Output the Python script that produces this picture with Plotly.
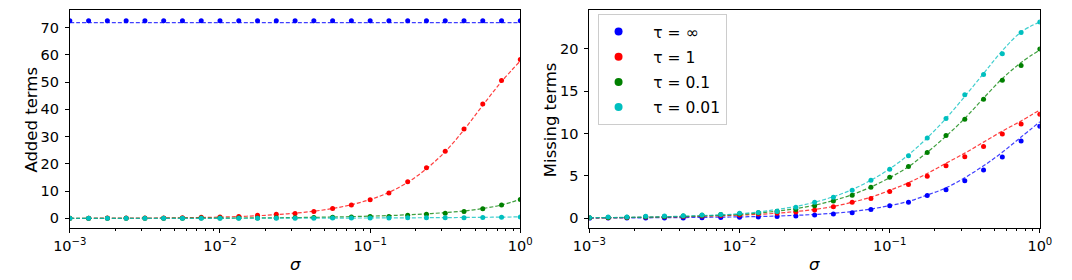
import numpy as np
import plotly.graph_objects as go

sigma = np.logspace(-3, 0, 25)

labels = ["τ = ∞", "τ = 1", "τ = 0.1", "τ = 0.01"]
colors = ["#0000ff", "#ff0000", "#008000", "#00bfbf"]

# Left panel: Added terms (points)
added_inf = [72.6] * 25
added_1 = [0.05, 0.06, 0.08, 0.1, 0.12, 0.15, 0.2, 0.4, 0.5, 0.7, 1.1, 1.45, 1.8, 2.5,
           3.6, 4.9, 6.8, 9.3, 13.4, 18.6, 24.6, 32.8, 42.0, 50.6, 58.3]
added_01 = [0.0, 0.0, 0.0, 0.0, 0.02, 0.03, 0.05, 0.07, 0.1, 0.12, 0.15, 0.2, 0.25, 0.3,
            0.4, 0.5, 0.7, 0.7, 1.1, 1.45, 1.9, 2.5, 3.5, 4.9, 6.9]
added_001 = [0.0, 0.0, 0.0, 0.0, 0.0, 0.0, 0.0, 0.0, 0.0, 0.02, 0.03, 0.04, 0.05, 0.06,
             0.08, 0.1, 0.12, 0.15, 0.18, 0.2, 0.2, 0.25, 0.3, 0.4, 0.5]
# Left panel: fitted dashed curves
added_fit_inf = [71.9] * 25
added_fit_1 = [0.02, 0.03, 0.05, 0.07, 0.1, 0.14, 0.2, 0.3, 0.45, 0.65, 0.95, 1.35, 1.9, 2.6,
               3.6, 5.0, 6.9, 9.5, 13.2, 18.2, 24.5, 32.5, 41.5, 50.2, 57.8]
added_fit_01 = [0.0, 0.0, 0.0, 0.01, 0.02, 0.03, 0.04, 0.06, 0.08, 0.11, 0.15, 0.2, 0.27, 0.36,
                0.48, 0.62, 0.8, 1.0, 1.3, 1.65, 2.1, 2.7, 3.6, 4.9, 7.0]
added_fit_001 = [0.0, 0.0, 0.0, 0.0, 0.0, 0.0, 0.0, 0.01, 0.01, 0.02, 0.03, 0.04, 0.05, 0.06,
                 0.08, 0.1, 0.12, 0.15, 0.18, 0.22, 0.26, 0.31, 0.37, 0.44, 0.52]

# Right panel: Missing terms (points)
miss_inf = [0.02, 0.03, 0.03, 0.04, 0.05, 0.05, 0.08, 0.1, 0.12, 0.15, 0.2, 0.27, 0.39, 0.5,
            0.66, 1.05, 1.48, 1.91, 2.7, 3.36, 4.45, 5.7, 7.23, 9.14, 10.86]
miss_1 = [0.06, 0.08, 0.1, 0.14, 0.18, 0.22, 0.28, 0.32, 0.4, 0.5, 0.59, 0.74, 0.98, 1.37,
          1.91, 2.34, 3.16, 3.98, 4.96, 6.21, 7.27, 8.48, 9.96, 11.13, 12.3]
miss_01 = [0.07, 0.1, 0.12, 0.18, 0.22, 0.28, 0.35, 0.45, 0.55, 0.66, 0.82, 1.05, 1.48, 2.03,
           2.73, 3.67, 4.84, 6.13, 7.77, 9.77, 11.7, 14.06, 16.3, 18.05, 20.0]
miss_001 = [0.1, 0.15, 0.15, 0.23, 0.27, 0.3, 0.4, 0.45, 0.6, 0.7, 0.8, 1.3, 1.9, 2.5,
            3.3, 4.5, 5.8, 7.4, 9.5, 11.8, 14.6, 17.0, 19.45, 21.95, 23.2]
# Right panel: fitted dashed curves
miss_fit_inf = [0.03, 0.04, 0.05, 0.06, 0.07, 0.09, 0.11, 0.14, 0.17, 0.21, 0.27, 0.35, 0.45, 0.6,
                0.8, 1.1, 1.5, 2.0, 2.75, 3.6, 4.8, 6.2, 7.8, 9.6, 11.4]
miss_fit_1 = [0.05, 0.07, 0.09, 0.12, 0.15, 0.19, 0.24, 0.3, 0.37, 0.47, 0.6, 0.8, 1.05, 1.4,
              1.9, 2.5, 3.3, 4.2, 5.3, 6.5, 7.7, 9.0, 10.3, 11.5, 12.8]
miss_fit_01 = [0.06, 0.08, 0.1, 0.13, 0.17, 0.22, 0.28, 0.36, 0.46, 0.62, 0.85, 1.15, 1.55, 2.1,
               2.8, 3.7, 4.8, 6.1, 7.8, 9.7, 11.8, 14.2, 16.5, 18.4, 19.9]
miss_fit_001 = [0.07, 0.09, 0.12, 0.15, 0.19, 0.25, 0.32, 0.41, 0.54, 0.74, 1.05, 1.4, 1.9, 2.55,
                3.4, 4.5, 5.85, 7.5, 9.5, 11.8, 14.4, 17.1, 19.8, 22.0, 23.2]

added_pts = [added_inf, added_1, added_01, added_001]
added_fit = [added_fit_inf, added_fit_1, added_fit_01, added_fit_001]
miss_pts = [miss_inf, miss_1, miss_01, miss_001]
miss_fit = [miss_fit_inf, miss_fit_1, miss_fit_01, miss_fit_001]

fig = go.Figure()

dash_style = "4px,2px"
for k in range(4):
    fig.add_trace(go.Scatter(x=sigma, y=added_pts[k], mode="markers", xaxis="x", yaxis="y",
                             marker=dict(color=colors[k], size=5), showlegend=False))
    fig.add_trace(go.Scatter(x=sigma, y=added_fit[k], mode="lines", xaxis="x", yaxis="y",
                             line=dict(color=colors[k], width=1.2, dash=dash_style, shape="spline"),
                             opacity=0.75, showlegend=False))
for k in range(4):
    fig.add_trace(go.Scatter(x=sigma, y=miss_pts[k], mode="markers", xaxis="x2", yaxis="y2",
                             marker=dict(color=colors[k], size=5), showlegend=False))
    fig.add_trace(go.Scatter(x=sigma, y=miss_fit[k], mode="lines", xaxis="x2", yaxis="y2",
                             line=dict(color=colors[k], width=1.2, dash=dash_style, shape="spline"),
                             opacity=0.75, showlegend=False))
# legend entries
for k in range(4):
    fig.add_trace(go.Scatter(x=[None], y=[None], mode="markers", xaxis="x2", yaxis="y2",
                             marker=dict(color=colors[k], size=8), name="\u00a0\u00a0\u00a0" + labels[k],
                             legendgroup="g%d" % k, showlegend=True))

W, H = 1072, 280


def px(xs):
    return xs / W


def py(ys):
    return 1 - ys / H


font = dict(family="DejaVu Sans", size=14.5, color="#000000")
tfont = dict(family="DejaVu Sans", size=16.5, color="#000000")
major = [1e-3, 1e-2, 1e-1, 1]
major_txt = ["10<sup>−3</sup>", "10<sup>−2</sup>", "10<sup>−1</sup>", "10<sup>0</sup>"]
minor_vals = [m * 10.0 ** e for e in (-3, -2, -1) for m in range(2, 10)]

xcommon = dict(type="log", range=[-3, 0], tickmode="array", tickvals=major, ticktext=major_txt,
               ticks="outside", ticklen=4, tickcolor="#000", showline=True, mirror=True,
               linecolor="#000", linewidth=1, showgrid=False, zeroline=False, tickfont=font,
               minor=dict(tickmode="array", tickvals=minor_vals, ticks="outside", ticklen=2,
                          tickcolor="#000", showgrid=False))
ycommon = dict(ticks="outside", ticklen=4, tickcolor="#000", showline=True, mirror=True,
               linecolor="#000", linewidth=1, showgrid=False, zeroline=False, tickfont=font,
               ticklabelstandoff=3)

ydom = [py(228.3), py(10.3)]
xdom1 = [px(54.3), px(517.3)]
xdom2 = [px(588.3), px(1051.3)]

fig.update_layout(
    width=W, height=H,
    margin=dict(l=0, r=0, t=0, b=0),
    paper_bgcolor="white", plot_bgcolor="white",
    xaxis=dict(domain=xdom1, anchor="y", **xcommon),
    yaxis=dict(domain=ydom, anchor="x", range=[-3.67, 76.4], tickvals=[0, 10, 20, 30, 40, 50, 60, 70],
               **ycommon),
    xaxis2=dict(domain=xdom2, anchor="y2", **xcommon),
    yaxis2=dict(domain=ydom, anchor="x2", range=[-1.18, 24.57], tickvals=[0, 5, 10, 15, 20],
                **ycommon),
    legend=dict(x=px(596.7), y=py(14), xanchor="left", yanchor="top", bgcolor="rgba(255,255,255,0.8)",
                bordercolor="#cccccc", borderwidth=1, itemwidth=30, tracegroupgap=2,
                font=dict(family="DejaVu Sans", size=15.5, color="#000")),
    showlegend=True,
    annotations=[
        dict(text="<i>σ</i>", xref="paper", yref="paper", x=sum(xdom1) / 2, y=py(264),
             xanchor="center", yanchor="middle", showarrow=False, font=tfont),
        dict(text="<i>σ</i>", xref="paper", yref="paper", x=sum(xdom2) / 2, y=py(264),
             xanchor="center", yanchor="middle", showarrow=False, font=tfont),
        dict(text="Added terms", xref="paper", yref="paper", x=px(14), y=py(120),
             xanchor="center", yanchor="middle", textangle=-90, showarrow=False, font=tfont),
        dict(text="Missing terms", xref="paper", yref="paper", x=px(548), y=py(120),
             xanchor="center", yanchor="middle", textangle=-90, showarrow=False, font=tfont),
    ],
)

fig.write_html("out.html", config={"displayModeBar": False},
               post_script="document.body.style.margin='0';document.body.style.overflow='hidden';")
